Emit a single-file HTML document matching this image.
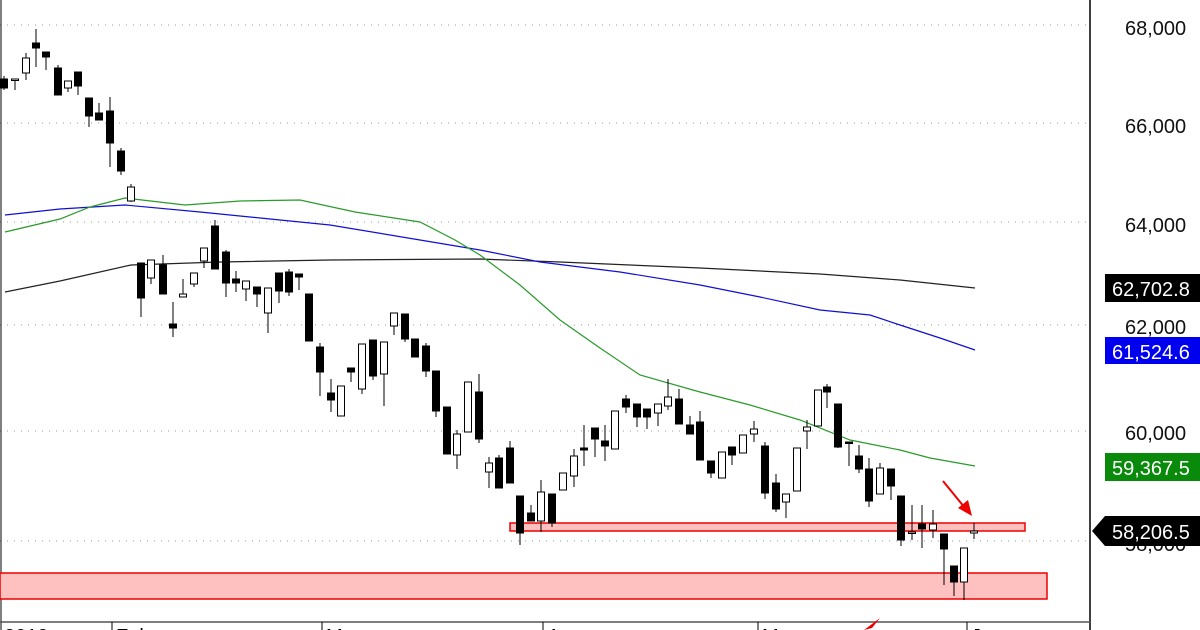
<!DOCTYPE html>
<html><head><meta charset="utf-8"><style>
html,body{margin:0;padding:0;background:#fff;width:1200px;height:630px;overflow:hidden}
text{font-family:"Liberation Sans",sans-serif}
</style></head><body>
<svg id="s" width="1200" height="630" xmlns="http://www.w3.org/2000/svg">
<rect width="1200" height="630" fill="#fff"/>
<g stroke="#999" stroke-width="1" stroke-dasharray="1,6">
<line x1="0" y1="25" x2="1090" y2="25"/>
<line x1="0" y1="123" x2="1090" y2="123"/>
<line x1="0" y1="222" x2="1090" y2="222"/>
<line x1="0" y1="325" x2="1090" y2="325"/>
<line x1="0" y1="431" x2="1090" y2="431"/>
<line x1="0" y1="541" x2="1090" y2="541"/>
</g>
<line x1="1" y1="0" x2="1" y2="630" stroke="#000"/>
<line x1="1090" y1="0" x2="1090" y2="630" stroke="#000" stroke-width="1.5"/>
<line x1="0" y1="622" x2="1090" y2="622" stroke="#555" stroke-width="1.5"/>
<g stroke="#000"><line x1="112" y1="622" x2="112" y2="630"/><line x1="322" y1="622" x2="322" y2="630"/><line x1="543" y1="622" x2="543" y2="630"/><line x1="758" y1="622" x2="758" y2="630"/><line x1="967" y1="622" x2="967" y2="630"/></g>
<g font-size="20" fill="#000"><text x="4" y="643">2019</text><text x="116" y="643">Feb</text><text x="326" y="643">Mar</text><text x="547" y="643">Apr</text><text x="762" y="643">May</text><text x="971" y="643">Jun</text></g>
<rect x="0" y="573" width="1047" height="26" fill="#ffc0c0" stroke="#e00" stroke-width="1.5"/>
<rect x="510" y="523" width="515" height="8" fill="#ffc0c0" stroke="#e00" stroke-width="1.5"/>
<polyline fill="none" stroke="#222" stroke-width="1.2" points="5,292 60,281 131,265 220,262 330,260 480,259 560,262 700,268 820,274 900,280 975,288"/>
<polyline fill="none" stroke="#1010d0" stroke-width="1.2" points="5,215 60,209 125,205 200,212 330,225 420,240 480,250 540,262 620,272 700,285 760,297 820,310 870,315 900,325 940,338 975,350"/>
<polyline fill="none" stroke="#2a9a2a" stroke-width="1.2" points="5,232 60,219 90,207 125,198 185,205 240,201 300,200 355,212 420,222 455,240 480,255 520,285 560,320 600,348 640,375 700,392 750,405 800,420 850,440 900,450 930,458 975,466"/>
<g id="c"></g>
<line x1="943" y1="481" x2="965" y2="508" stroke="#e00" stroke-width="2"/>
<polygon points="972,516 958,508 968,500" fill="#e00"/>
<polygon points="864,630 880,618 872,628" fill="#e00"/>
<g font-size="20" fill="#111">
<text x="1125" y="35">68,000</text><text x="1125" y="133">66,000</text><text x="1125" y="232">64,000</text><text x="1125" y="334">62,000</text><text x="1125" y="440">60,000</text><text x="1125" y="551">58,000</text>
</g>
<rect x="1105" y="274" width="95" height="28" fill="#000"/><text x="1112" y="296" font-size="20" fill="#fff">62,702.8</text>
<rect x="1105" y="337" width="95" height="27" fill="#0000ee"/><text x="1112" y="359" font-size="20" fill="#fff">61,524.6</text>
<rect x="1105" y="453" width="95" height="28" fill="#0a8a0a"/><text x="1112" y="475" font-size="20" fill="#fff">59,367.5</text>
<polygon points="1092,531 1105,516 1200,516 1200,546 1105,546" fill="#000"/><text x="1112" y="539" font-size="20" fill="#fff">58,206.5</text>
</svg>
<script>
var d=[[4,79,88,76,90,1],[15,79,80,79,90,0],[26,58,73,53,80,0],[36,43,48,29,67,1],[46,52,57,52,70,1],[58,68,95,65,95,1],[68,81,88,81,92,0],[78,72,86,72,95,1],[89,98,116,98,127,1],[99,113,120,103,120,1],[110,111,143,97,167,1],[121,151,171,148,175,1],[131,187,201,184,202,0],
[141,263,298,263,317,1],[151,260,278,260,284,0],[163,265,294,255,294,1],[173,324,328,302,337,1],[183,294,297,279,297,0],[194,273,284,273,287,0],[204,248,261,248,268,0],[215,226,269,220,269,1],[226,252,283,250,297,1],[236,279,283,271,292,1],[246,281,289,281,301,0],[257,287,294,287,307,1],[268,288,313,288,333,0],[279,273,291,273,303,1],[289,272,292,269,296,1],[299,274,277,274,290,1],[309,294,341,294,341,1],[320,347,372,343,396,1],[331,393,400,379,412,1],[341,386,416,386,416,0],[351,368,372,368,382,1],[362,344,389,344,394,0],[373,340,376,340,380,1],[384,342,374,342,406,0],[394,313,326,313,335,0],[405,314,339,314,342,1],[415,339,357,339,357,1],[426,346,371,343,377,1],[436,371,411,371,417,1],[447,407,454,407,454,1],[457,434,455,430,469,0],[468,382,432,382,432,0],[479,392,439,374,443,1],[489,463,472,457,488,0],[499,458,488,455,488,1],[510,448,483,441,483,1],[520,496,533,496,545,1],[531,513,521,505,521,1],[541,492,521,480,532,0],[552,494,523,494,527,1],[563,473,490,473,490,0],[574,456,476,449,487,0],[584,448,450,425,466,1],[595,428,439,428,457,1],[605,441,446,425,461,1],[615,411,449,411,449,0],[626,399,407,395,413,1],[637,404,417,404,427,1],[647,409,417,409,429,1],[658,404,413,404,426,0],[668,397,406,379,410,0],[679,399,424,389,424,1],[690,425,434,416,434,1],[700,422,460,411,460,1],[711,461,473,461,478,1],[722,452,478,452,478,0],[732,447,455,447,465,1],[743,435,453,435,453,0],[754,429,434,421,442,0],[765,446,493,442,499,1],[776,483,509,474,512,1],[786,494,502,494,518,0],[797,448,491,448,491,0],[807,427,431,420,449,0],[818,390,426,390,426,0],[827,387,392,384,408,1],[838,404,447,404,448,1],[849,442,443,442,466,1],[859,456,469,445,473,1],[869,469,501,458,507,1],[880,468,494,463,494,0],[891,469,486,469,500,1],[901,496,540,496,546,1],[912,532,533,505,540,0],[922,524,529,505,548,1],[933,524,530,510,538,0],[944,534,549,534,585,1],[954,566,582,566,596,1],[964,548,582,548,600,0],[974,531,533,523,539,0]];
var g=document.getElementById('c'),h='';
d.forEach(function(a){var x=a[0];h+='<line x1="'+x+'" y1="'+a[3]+'" x2="'+x+'" y2="'+a[4]+'" stroke="#000" stroke-width="1"/>';
var hh=Math.max(a[2]-a[1],1.5);h+='<rect x="'+(x-3.5)+'" y="'+a[1]+'" width="7" height="'+hh+'" fill="'+(a[5]?'#000':'#fff')+'" stroke="#000" stroke-width="1"/>';});
g.innerHTML=h;
</script>
</body></html>
